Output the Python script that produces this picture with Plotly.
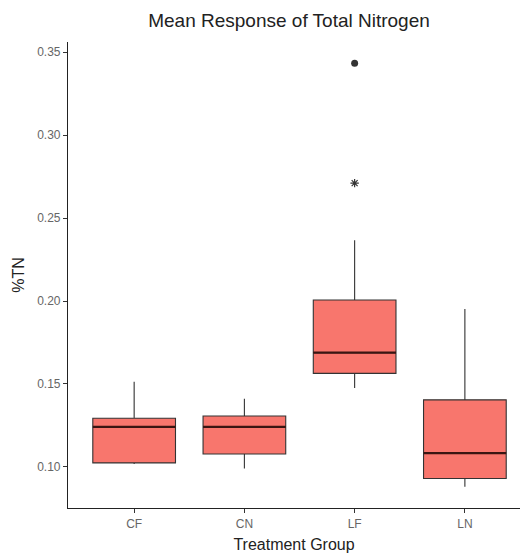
import plotly.graph_objects as go

groups = ["CF", "CN", "LF", "LN"]
q1 = [0.1024, 0.1078, 0.1564, 0.0930]
median = [0.1241, 0.1241, 0.1689, 0.1083]
q3 = [0.1293, 0.1307, 0.2006, 0.1404]
lower_whisker = [0.1018, 0.0990, 0.1476, 0.0880]
upper_whisker = [0.1514, 0.1411, 0.2367, 0.1952]
outlier_group = ["LF"]
outlier_value = [0.3434]
star_group = ["LF"]
star_value = [0.2711]

pos = {g: i + 1 for i, g in enumerate(groups)}
xs = [pos[g] for g in groups]
box_w = 0.75
fill = "#F8766D"
edge = "#333333"

fig = go.Figure()
fig.add_trace(go.Box(
    x=xs, q1=q1, median=median, q3=q3,
    lowerfence=lower_whisker, upperfence=upper_whisker,
    width=box_w, whiskerwidth=0,
    fillcolor=fill, line=dict(color=edge, width=1.1),
    boxpoints=False, hoverinfo="skip", showlegend=False,
))
# thicker median segments (ggplot style)
mx, my = [], []
for x, m in zip(xs, median):
    mx += [x - box_w / 2, x + box_w / 2, None]
    my += [m, m, None]
fig.add_trace(go.Scatter(x=mx, y=my, mode="lines",
                         line=dict(color="#3a1512", width=2.4),
                         showlegend=False, hoverinfo="skip"))
fig.add_trace(go.Scatter(x=[pos[g] for g in outlier_group], y=outlier_value,
                         mode="markers", marker=dict(color="#333333", size=7),
                         showlegend=False))
fig.add_trace(go.Scatter(x=[pos[g] for g in star_group], y=star_value,
                         mode="markers", marker=dict(color="#333333", size=7, symbol="asterisk-open",
                                                     line=dict(color="#333333", width=1.2)),
                         showlegend=False))

fig.update_layout(
    width=520, height=557,
    margin=dict(l=68, r=0, t=42, b=49),
    paper_bgcolor="white", plot_bgcolor="white",
    font=dict(family="Liberation Sans, Arial, sans-serif"),
    title=dict(text="Mean Response of Total Nitrogen", x=289 / 520, xanchor="center",
               y=1 - 20 / 557, yanchor="middle",
               font=dict(size=19, color="#222222")),
)
fig.update_xaxes(
    range=[0.4, 4.5], tickvals=xs, ticktext=groups,
    showline=True, linecolor="#222222", linewidth=1.2,
    ticks="outside", ticklen=4, tickcolor="#333333",
    tickfont=dict(size=12, color="#666666"), showgrid=False, zeroline=False,
    title=dict(text="Treatment Group", font=dict(size=16, color="#222222"), standoff=9),
)
fig.update_yaxes(
    range=[0.0752, 0.3562], tickvals=[0.10, 0.15, 0.20, 0.25, 0.30, 0.35],
    tickformat=".2f",
    showline=True, linecolor="#222222", linewidth=1.2,
    ticks="outside", ticklen=4, tickcolor="#333333",
    tickfont=dict(size=12, color="#666666"), showgrid=False, zeroline=False,
    title=dict(text="%TN", font=dict(size=16, color="#222222"), standoff=8),
)

fig.write_html("out.html")
